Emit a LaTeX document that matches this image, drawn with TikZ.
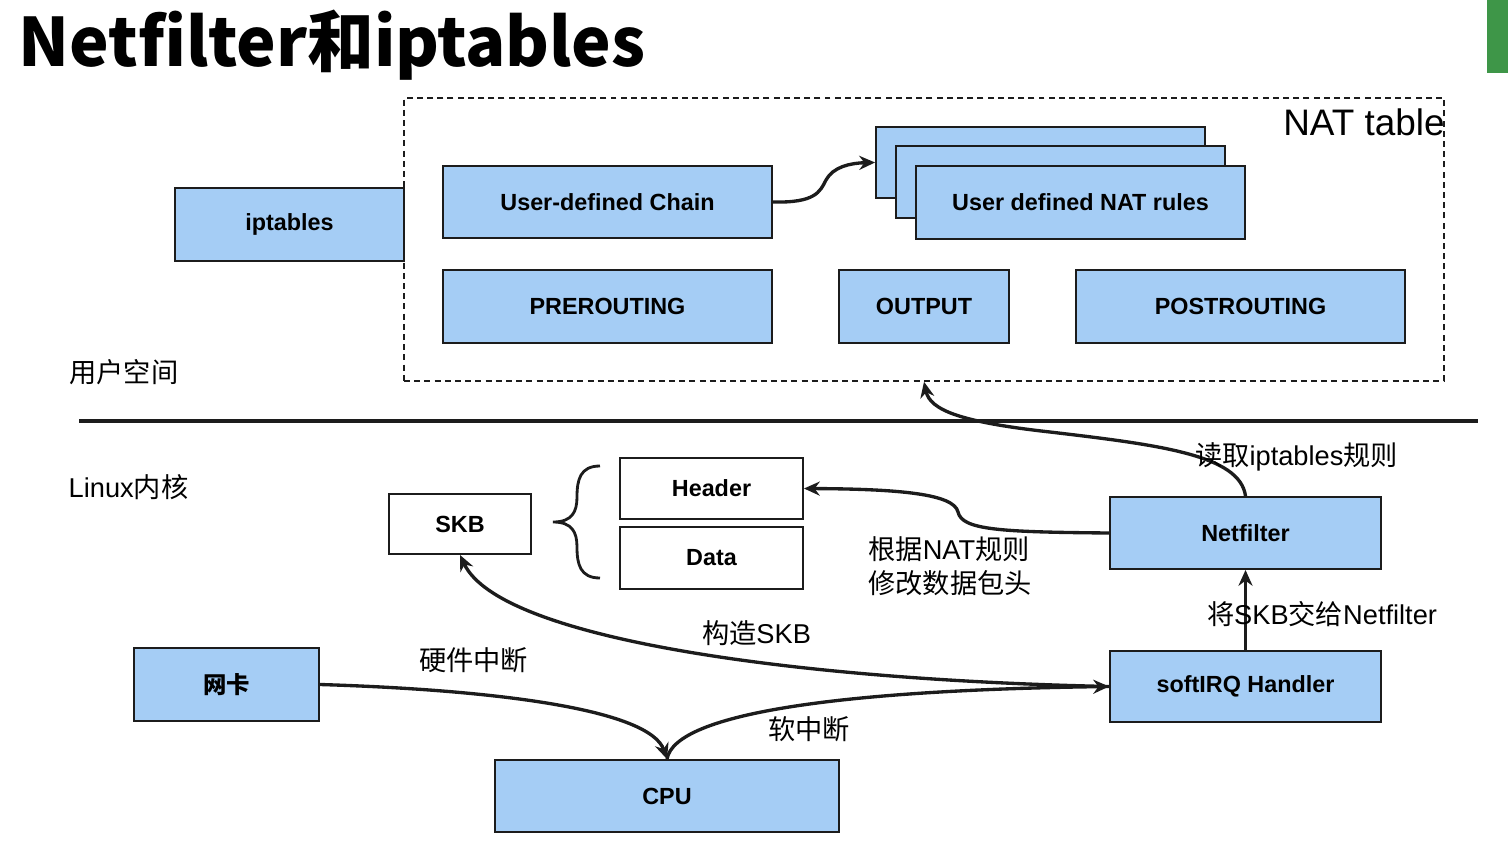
\documentclass[tikz,border=0pt]{standalone}
\usepackage{fontspec}
\setmainfont{Liberation Sans}
\newfontfamily\cjk{Noto Sans CJK SC}
\usetikzlibrary{arrows.meta}
\definecolor{boxblue}{RGB}{165,205,245}
\definecolor{edge}{RGB}{28,28,28}
\definecolor{bargreen}{RGB}{62,150,72}
\newcommand{\zh}[1]{{\cjk #1}}
\tikzset{ nb/.style = { rectangle
                       , draw       = edge
                       , fill       = boxblue
                       , line width = 1.1pt
                       , inner sep  = 0pt
                       , font       = \fontsize{13.3}{16}\selectfont\bfseries
                       },
          wb/.style = { nb
                       , fill = white
                       },
          ar/.style = { draw       = edge
                       , line width = 1.9pt
                       , -{Stealth[length=9pt, width=8pt]}
                       },
          lb/.style = { inner sep = 0pt
                       , font      = \fontsize{15.5}{19.5}\selectfont
                       }
        }

\begin{document}
\begin{tikzpicture}[x=0.02cm, y=-0.02cm]
    \useasboundingbox (0,0) rectangle (1508,862);
    \fill[bargreen] (1487,0) rectangle (1508,73);
    % title
    \node[anchor=west, inner sep=0pt, font=\fontsize{38}{46}\selectfont\bfseries] (title)
        at (18,45) {\cjk Netfilter和iptables};
    % user space
    \node[draw=edge, dashed, line width=0.9pt, dash pattern=on 3.4pt off 2.4pt,
          minimum width=20.8cm, minimum height=5.66cm, inner sep=0pt] (nat) at (924,239.5) {};
    \node[anchor=east, inner sep=0pt, font=\fontsize{21}{25}\selectfont] (natlbl)
        at (1445,122) {NAT table};
    \node[nb, minimum width=4.58cm, minimum height=1.46cm] (ipt) at (289.5,224.5) {iptables};
    \node[nb, minimum width=6.58cm, minimum height=1.44cm] (chain) at (607.5,202) {User-defined Chain};
    \node[nb, minimum width=6.58cm, minimum height=1.42cm] (rb) at (1040.5,162.5) {};
    \node[nb, minimum width=6.58cm, minimum height=1.44cm] (rm) at (1060.5,182) {};
    \node[nb, minimum width=6.58cm, minimum height=1.46cm] (rf) at (1080.5,202.5) {User defined NAT rules};
    \node[nb, minimum width=6.58cm, minimum height=1.46cm] (pre) at (607.5,306.5) {PREROUTING};
    \node[nb, minimum width=3.40cm, minimum height=1.46cm] (out) at (924,306.5) {OUTPUT};
    \node[nb, minimum width=6.58cm, minimum height=1.46cm] (post) at (1240.5,306.5) {POSTROUTING};
    \node[lb] (usr) at (124,372) {\zh{用户空间}};
    % separator
    \coordinate (sepl) at (79,421);
    \coordinate (sepr) at (1478,421);
    \draw[edge, line width=2pt] (sepl) -- (sepr);
    % kernel
    \node[lb] (krn) at (128.5,487) {Linux\zh{内核}};
    \node[wb, minimum width=2.84cm, minimum height=1.20cm] (skb) at (460,524) {SKB};
    \node[wb, minimum width=3.66cm, minimum height=1.22cm] (hdr) at (711.5,488.5) {Header};
    \node[wb, minimum width=3.66cm, minimum height=1.24cm] (dat) at (711.5,558) {Data};
    \draw[edge, line width=1.6pt]
        (600,466) .. controls (580,466) and (577,480) .. (577,497)
                  .. controls (577,512) and (572,522) .. (553,522)
                  .. controls (572,522) and (577,532) .. (577,547)
                  .. controls (577,564) and (580,578) .. (600,578);
    \node[nb, minimum width=5.42cm, minimum height=1.44cm] (nf) at (1245.5,533) {Netfilter};
    \node[nb, minimum width=5.42cm, minimum height=1.42cm] (sirq) at (1245.5,686.5) {softIRQ Handler};
    \node[nb, minimum width=3.70cm, minimum height=1.46cm] (nic) at (226.5,684.5) {\zh{网卡}};
    \node[nb, minimum width=6.88cm, minimum height=1.44cm] (cpu) at (667,796) {CPU};
    % connectors
    \draw[ar] (chain.east) .. controls (815,203) and (820,192) .. (826,180)
                           .. controls (833,167) and (850,163) .. (rb.west);
    \draw[ar] (nf.north) .. controls (1240,455) and (1160,445) .. (1050,432)
                         .. controls (960,422) and (930,410) .. (nat.south);
    \draw[ar] (nf.west) .. controls (1000,532) and (962,530) .. (958,512)
                        .. controls (954,494) and (900,489) .. (hdr.east);
    \draw[ar] (sirq.north) -- (nf.south);
    \draw[ar] (nic.east) .. controls (500,690) and (650,710) .. (cpu.north);
    \draw[ar] (cpu.north) .. controls (675,712) and (850,690) .. (sirq.west);
    \draw[ar] (sirq.west) .. controls (800,680) and (500,640) .. (skb.south);
    % labels
    \node[lb] (l1) at (1296.5,457) {\zh{读取}iptables\zh{规则}};
    \node[lb, anchor=west, align=left] (l2) at (868,566.5) {\zh{根据}NAT\zh{规则}\\\zh{修改数据包头}};
    \node[lb] (l3) at (1322,614) {\zh{将}SKB\zh{交给}Netfilter};
    \node[lb] (l4) at (756.5,633) {\zh{构造}SKB};
    \node[lb] (l5) at (473.5,660) {\zh{硬件中断}};
    \node[lb] (l6) at (809,729) {\zh{软中断}};
\end{tikzpicture}
\end{document}
